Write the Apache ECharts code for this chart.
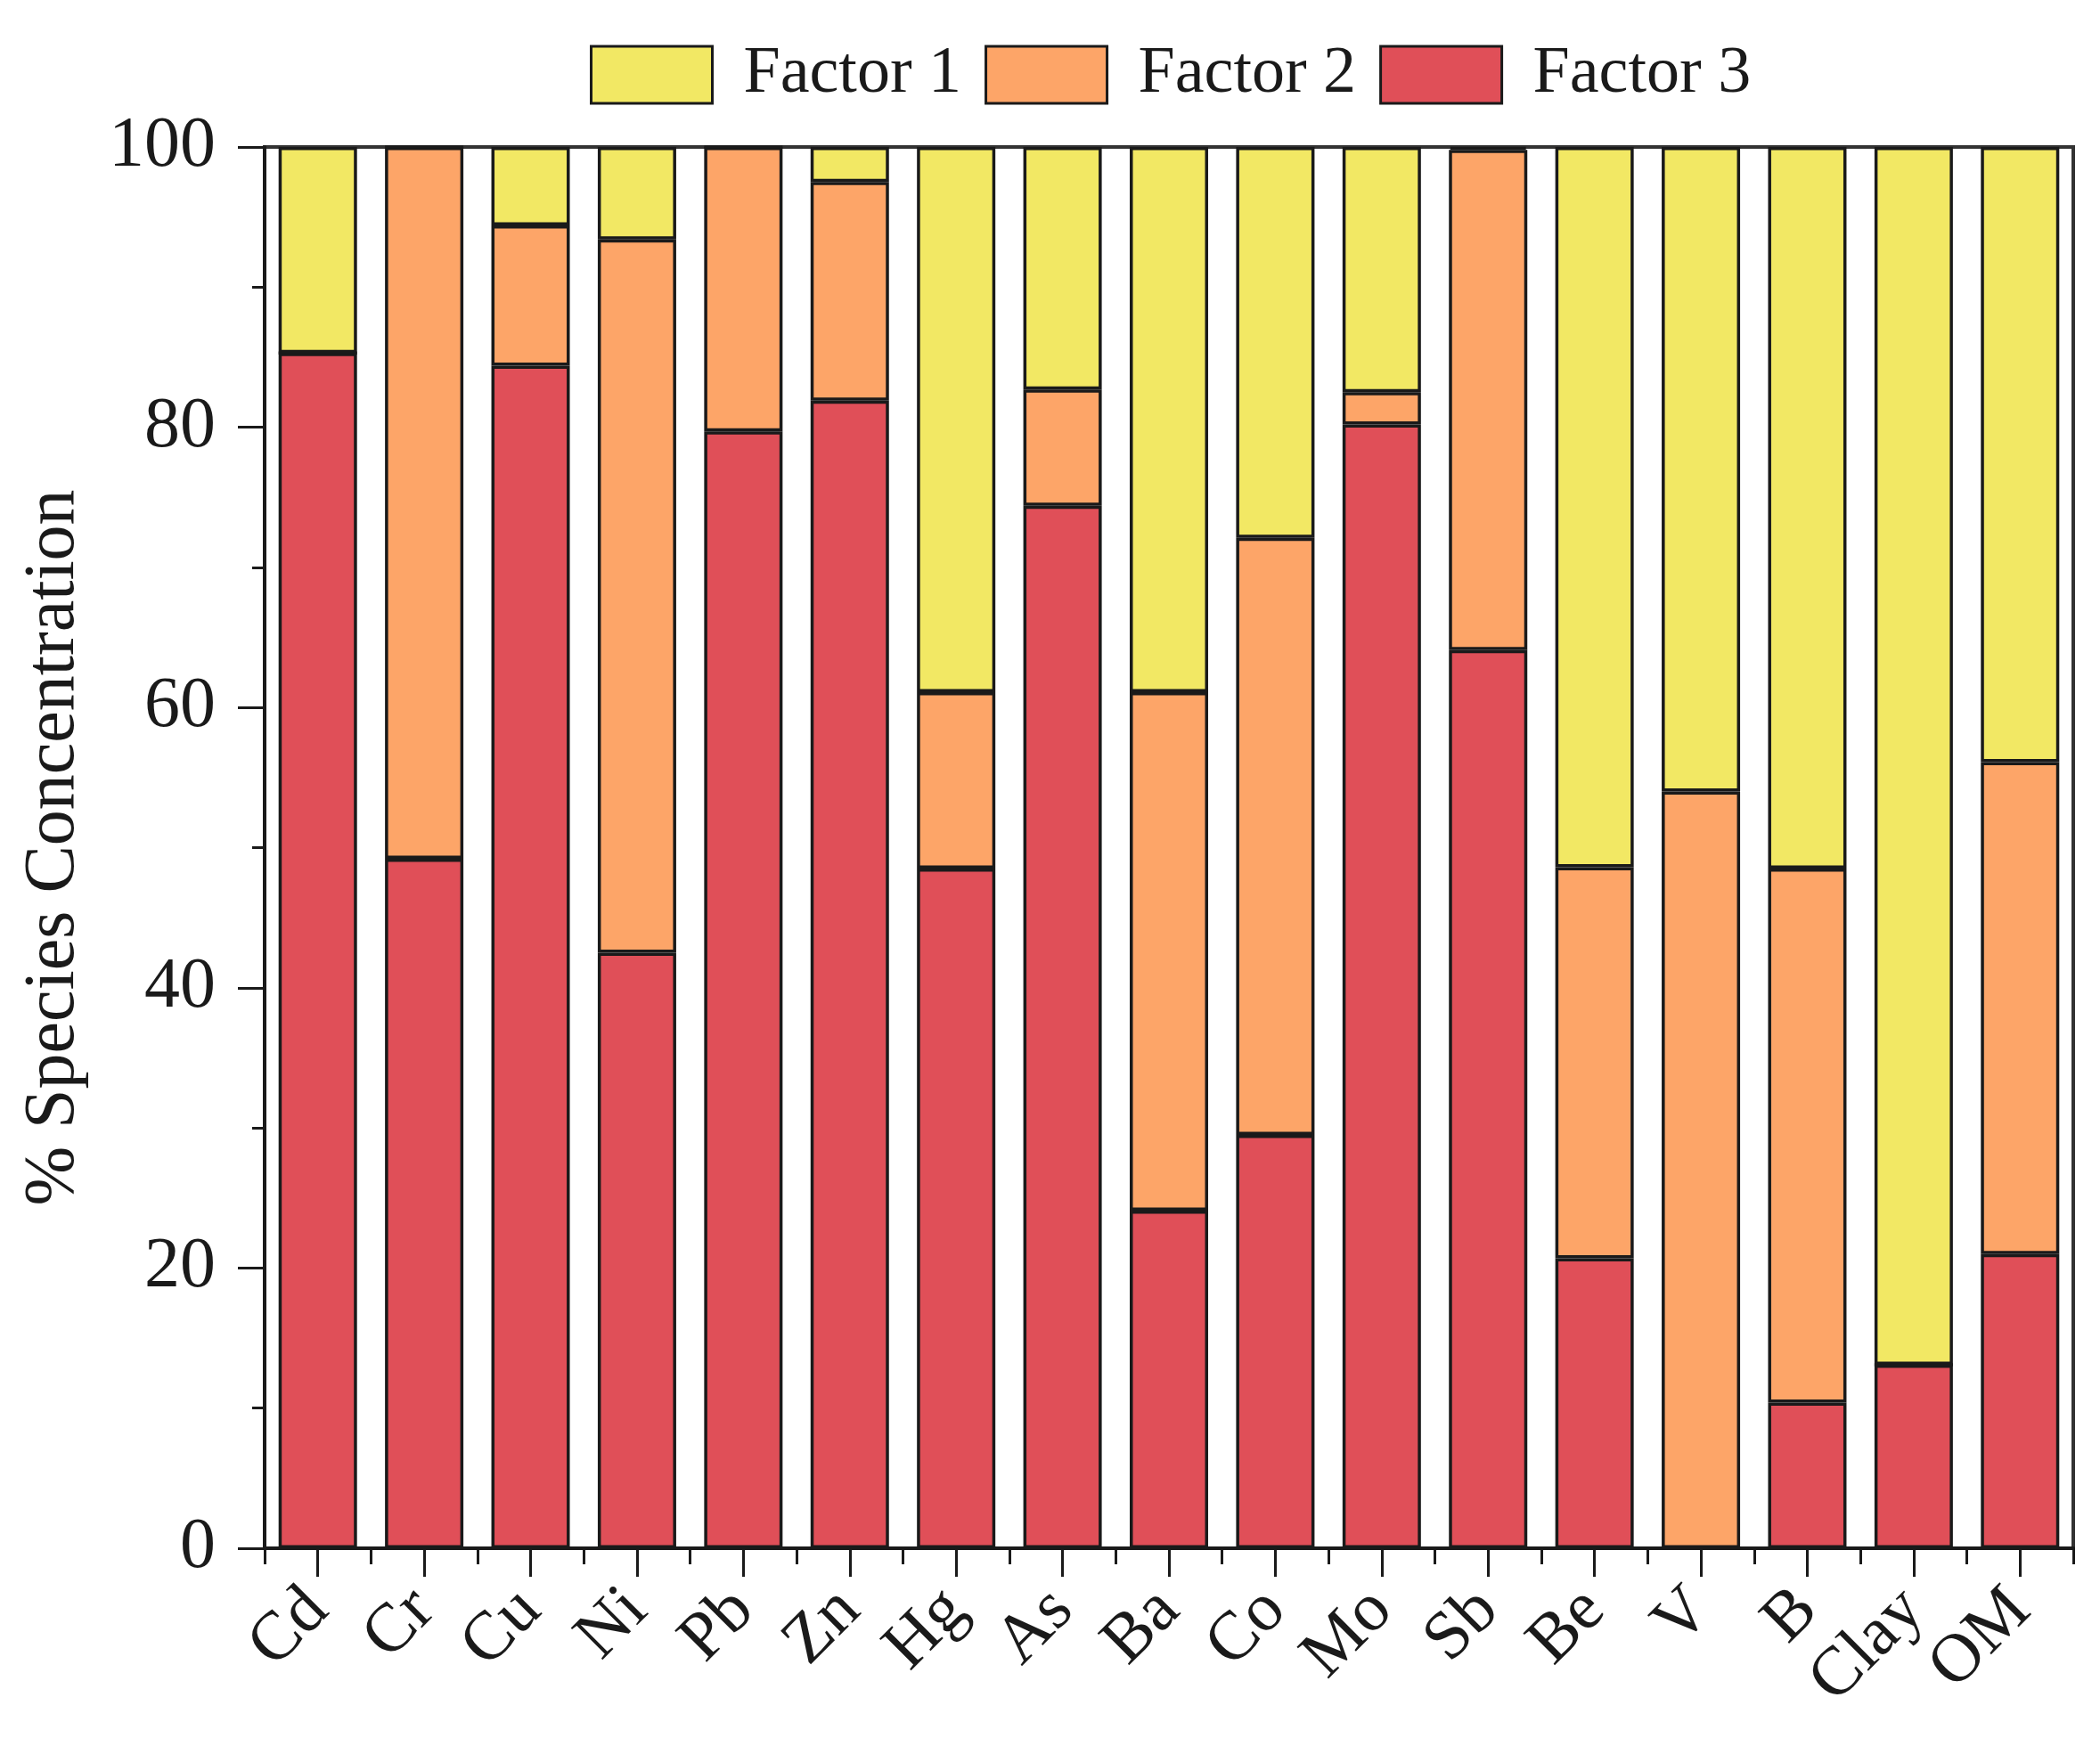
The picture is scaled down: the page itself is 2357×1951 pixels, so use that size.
<!DOCTYPE html>
<html>
<head>
<meta charset="utf-8">
<script src="https://cdn.jsdelivr.net/npm/echarts@6/dist/echarts.min.js"></script>
<style>
  html, body { margin: 0; padding: 0; background: #fff; }
  #main { width: 2357px; height: 1951px; }
</style>
</head>
<body>
<div id="main"></div>
<script>
// species on the x axis
var species = ['Cd', 'Cr', 'Cu', 'Ni', 'Pb', 'Zn', 'Hg', 'As', 'Ba', 'Co', 'Mo', 'Sb', 'Be', 'V', 'B', 'Clay', 'OM'];

// % contribution of each factor (stacked: factor 3 at the bottom)
var factor3 = [85.3, 49.2, 84.4, 42.5, 79.7, 81.9, 48.5, 74.4, 24.1, 29.5, 80.2, 64.1, 20.7, 0, 10.4, 13.1, 21.0];
var factor2 = [0, 50.8, 10.0, 50.9, 20.3, 15.6, 12.6, 8.3, 37.0, 42.6, 2.3, 35.7, 27.9, 54.0, 38.1, 0, 35.1];
var factor1 = [14.7, 0, 5.6, 6.6, 0, 2.5, 38.9, 17.3, 38.9, 27.9, 17.5, 0.2, 51.4, 46.0, 51.5, 86.9, 43.9];

var yTicks = [0, 20, 40, 60, 80, 100];

var FONT = 'Liberation Serif';
var INK = '#1a1a1a';

function drawChart() {
    var myChart = echarts.init(document.getElementById('main'));

    function barSeries(name, data, color) {
        return {
            name: name,
            type: 'bar',
            stack: 'total',
            barWidth: 88,
            data: data,
            itemStyle: {
                color: color,
                borderColor: INK,
                borderWidth: 3.5
            },
            emphasis: { disabled: true }
        };
    }

    var option = {
        animation: false,
        backgroundColor: '#ffffff',
        legend: {
            data: ['Factor 1', 'Factor 2', 'Factor 3'],
            top: 42,
            left: 657,
            icon: 'rect',
            itemWidth: 136,
            itemHeight: 64,
            itemGap: 26,
            itemStyle: {
                borderColor: INK,
                borderWidth: 3
            },
            textStyle: {
                fontFamily: FONT,
                fontSize: 74,
                color: INK,
                padding: [0, 0, 0, 30]
            }
        },
        grid: {
            left: 297,
            right: 30,
            top: 165,
            bottom: 213,
            show: true,
            borderColor: '#333333',
            borderWidth: 4,
            backgroundColor: 'transparent'
        },
        xAxis: [
            {
                type: 'category',
                data: species,
                position: 'bottom',
                axisLine: { show: true, lineStyle: { color: INK, width: 4 } },
                axisTick: {
                    show: true,
                    interval: 0,
                    alignWithLabel: true,
                    length: 32,
                    lineStyle: { color: INK, width: 3 }
                },
                axisLabel: {
                    interval: 0,
                    rotate: 45,
                    margin: 58,
                    fontFamily: FONT,
                    fontSize: 77,
                    color: INK
                }
            },
            {
                // boundary ticks between the categories
                type: 'category',
                data: species,
                position: 'bottom',
                axisLine: { show: false },
                axisTick: {
                    show: true,
                    interval: 0,
                    alignWithLabel: false,
                    length: 18,
                    lineStyle: { color: INK, width: 3 }
                },
                axisLabel: { show: false }
            }
        ],
        yAxis: {
            type: 'value',
            min: yTicks[0],
            max: yTicks[yTicks.length - 1],
            interval: 20,
            name: '% Species Concentration',
            nameLocation: 'middle',
            nameGap: 196,
            nameTextStyle: {
                fontFamily: FONT,
                fontSize: 80,
                color: INK
            },
            axisLine: { show: true, lineStyle: { color: INK, width: 4 } },
            axisTick: {
                show: true,
                length: 30,
                lineStyle: { color: INK, width: 3 }
            },
            minorTick: {
                show: true,
                splitNumber: 2,
                length: 14,
                lineStyle: { color: INK, width: 3 }
            },
            splitLine: { show: false },
            axisLabel: {
                margin: 55,
                fontFamily: FONT,
                fontSize: 80,
                color: INK
            }
        },
        series: [
            barSeries('Factor 3', factor3, '#E04F58'),
            barSeries('Factor 2', factor2, '#FDA568'),
            barSeries('Factor 1', factor1, '#F2E864')
        ]
    };

    myChart.setOption(option);
}

drawChart();
</script>
</body>
</html>
